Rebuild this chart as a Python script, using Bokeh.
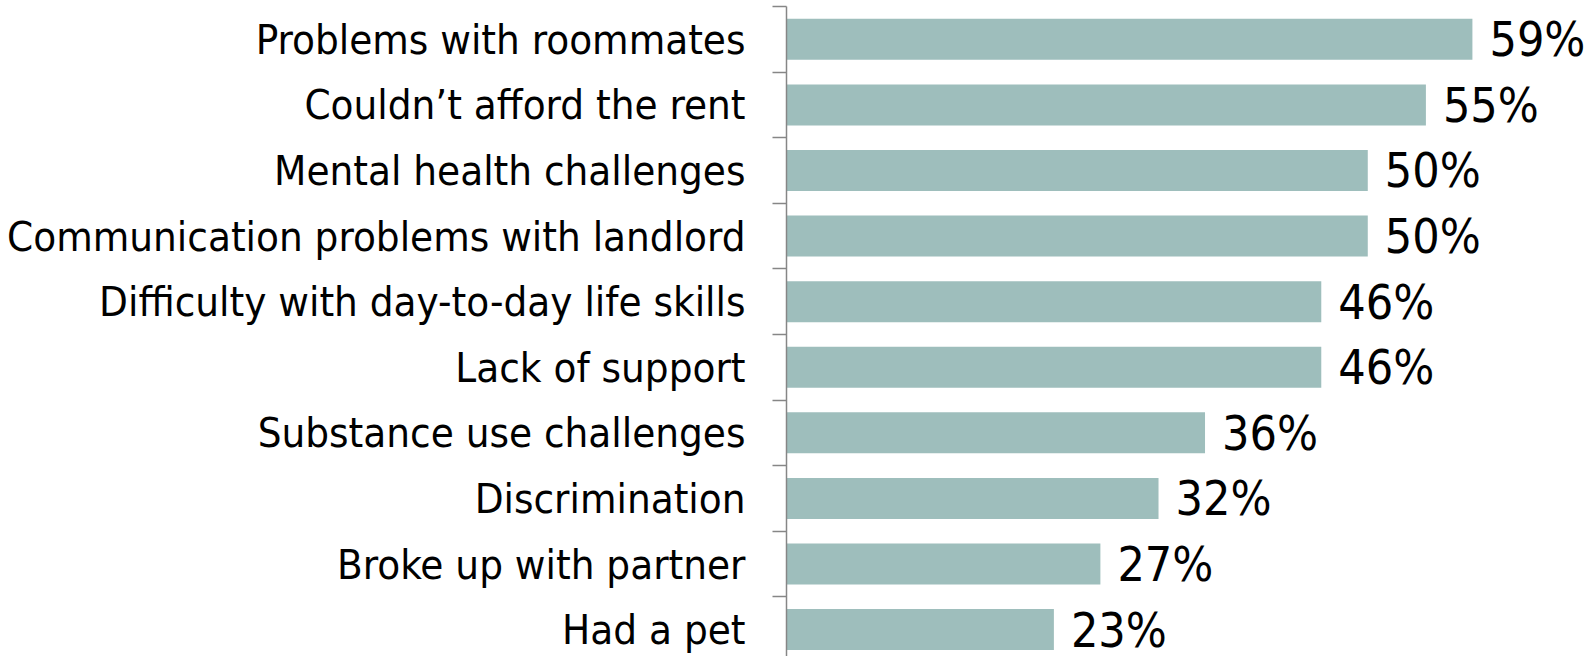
from bokeh.plotting import figure
from bokeh.models import Range1d, FixedTicker, ColumnDataSource, LabelSet
from bokeh.core.properties import value
from bokeh.embed import file_html
from bokeh.resources import INLINE

categories = [
    "Problems with roommates",
    "Couldn\u2019t afford the rent",
    "Mental health challenges",
    "Communication problems with landlord",
    "Difficulty with day-to-day life skills",
    "Lack of support",
    "Substance use challenges",
    "Discrimination",
    "Broke up with partner",
    "Had a pet",
]
values = [59, 55, 50, 50, 46, 46, 36, 32, 27, 23]

FONT = "DejaVu Sans Condensed"
n = len(categories)
pos = list(range(n))

src = ColumnDataSource(dict(
    y=pos,
    v=values,
    lab=[f"{v}%" for v in values],
))

p = figure(width=1587, height=656, output_backend="svg", toolbar_location=None,
           x_range=Range1d(0, 68.9), y_range=Range1d(n - 0.59, -0.5),
           min_border_left=786, min_border_right=0, min_border_top=6, min_border_bottom=0)
p.outline_line_color = None
p.xaxis.visible = False
p.xgrid.visible = False
p.ygrid.visible = False

p.hbar(y="y", right="v", left=0, height=0.625, source=src,
       fill_color="#9EBEBC", line_color=None)

labels = LabelSet(x="v", y="y", text="lab", source=src, x_offset=17,
                  text_baseline="middle", text_align="left",
                  text_font=value(FONT), text_font_size="48px", text_color="#000000")
p.add_layout(labels)

ax = p.yaxis[0]
ax.ticker = FixedTicker(ticks=pos, minor_ticks=[i - 0.5 for i in range(n + 1)])
ax.major_label_overrides = {i: c for i, c in enumerate(categories)}
ax.major_tick_out = 0
ax.major_tick_in = 0
ax.minor_tick_out = 14
ax.minor_tick_in = 0
ax.major_label_standoff = 27
ax.major_label_text_font = FONT
ax.major_label_text_font_size = "41.7px"
ax.major_label_text_color = "#000000"
ax.axis_line_color = "#868686"
ax.axis_line_width = 1.5
ax.minor_tick_line_color = "#868686"
ax.minor_tick_line_width = 1.5

open("out.html", "w").write(file_html(p, INLINE))
